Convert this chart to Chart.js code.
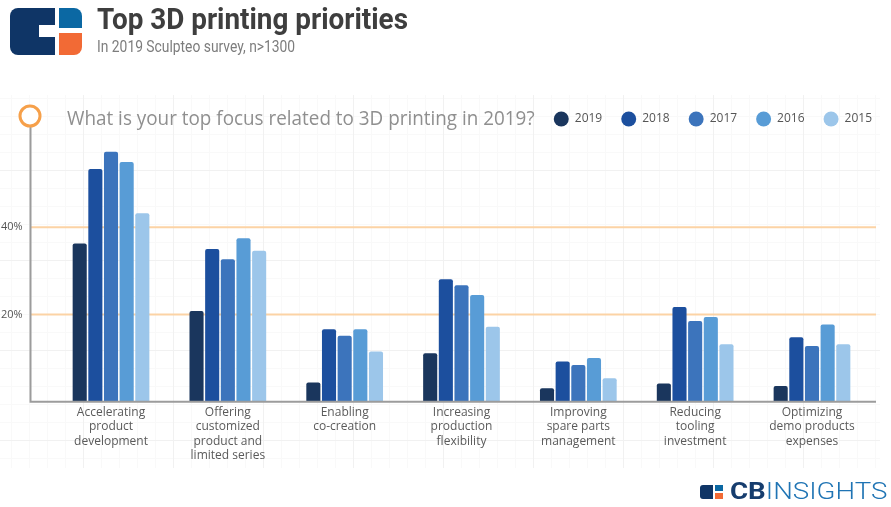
<!DOCTYPE html>
<html>
<head>
<meta charset="utf-8">
<script src="https://cdn.jsdelivr.net/npm/chart.js@4"></script>
<style>
  body { margin: 0; width: 891px; height: 507px; background: #fff; position: relative; overflow: hidden; font-family: Roboto, sans-serif; }
  .paper {
    position: absolute; left: 0; top: 95px; width: 880px; height: 373px;
    background-image:
      linear-gradient(to right, #f1f1f1 1px, transparent 1px),
      linear-gradient(to bottom, #f1f1f1 1px, transparent 1px),
      linear-gradient(to right, #f9f9f9 1px, transparent 1px),
      linear-gradient(to bottom, #f9f9f9 1px, transparent 1px);
    background-size: 90px 90px, 90px 90px, 18px 18px, 18px 18px;
    background-position: 83px -15px, 83px -15px, 11px -15px, 11px -15px;
  }
  #chart { position: absolute; left: 0; top: 0; }
  .logo div { position: absolute; }
  .title { position: absolute; left: 97px; top: 1px; font-size: 30px; font-weight: bold; color: #3e3e3e; white-space: nowrap; transform-origin: left top; }
  .sub { position: absolute; left: 97px; top: 37px; font-size: 16px; color: #7d7d7d; white-space: nowrap; transform-origin: left top; }
  .question { position: absolute; left: 67px; top: 104px; font-family: "Open Sans", sans-serif; font-size: 20px; color: #8f8f8f; white-space: nowrap; transform-origin: left top; }
  .cb { position: absolute; left: 700px; top: 481px; height: 22px; }
  .cb div { position: absolute; }
  .cbtext { position: absolute; left: 730px; top: 477px; font-size: 24px; white-space: nowrap; transform-origin: left top; }
</style>
</head>
<body>
<div class="paper"></div>
<canvas id="chart" width="891" height="507"></canvas>

<div class="logo">
  <div style="left:10px;top:8px;width:45px;height:47px;background:#0f3566;border-radius:8px 0 0 8px;"></div>
  <div style="left:39px;top:25px;width:16px;height:12px;background:#fff;"></div>
  <div style="left:59px;top:8px;width:23px;height:20px;background:#0b68a3;border-radius:0 8px 0 0;"></div>
  <div style="left:59px;top:33px;width:23px;height:22px;background:#f26a35;border-radius:0 0 8px 0;"></div>
</div>
<div class="title" id="title">Top 3D printing priorities</div>
<div class="sub" id="sub">In 2019 Sculpteo survey, n&gt;1300</div>
<div class="question" id="question">What is your top focus related to 3D printing in 2019?</div>

<div class="cb">
  <div style="left:0;top:4px;width:13px;height:14px;background:#0f3566;border-radius:3px 0 0 3px;"></div>
  <div style="left:15px;top:4px;width:8px;height:6px;background:#0b68a3;"></div>
  <div style="left:15px;top:12px;width:8px;height:6px;background:#f26a35;"></div>
</div>
<div class="cbtext" id="cbtext"><span style="font-weight:bold;color:#163d6e;">CB</span><span style="color:#1f74b4;font-weight:300;">INSIGHTS</span></div>

<script>
// ---- data ----
const categories = [
  ["Accelerating", "product", "development"],
  ["Offering", "customized", "product and", "limited series"],
  ["Enabling", "co-creation"],
  ["Increasing", "production", "flexibility"],
  ["Improving", "spare parts", "management"],
  ["Reducing", "tooling", "investment"],
  ["Optimizing", "demo products", "expenses"]
];
const years = ["2019", "2018", "2017", "2016", "2015"];
const s2019 = [36.3, 20.8, 4.4, 11.1, 3.1, 4.2, 3.6];
const s2018 = [53.4, 35.0, 16.6, 28.1, 9.2, 21.7, 14.8];
const s2017 = [57.3, 32.7, 15.1, 26.7, 8.4, 18.5, 12.8];
const s2016 = [55.0, 37.5, 16.6, 24.5, 10.0, 19.4, 17.7];
const s2015 = [43.2, 34.6, 11.5, 17.2, 5.4, 13.2, 13.2];
const yTicks = [20, 40];

const colors = ["#1a365d", "#1c4f9e", "#3c74bc", "#589cd6", "#9cc6ea"];
const series = [s2019, s2018, s2017, s2016, s2015];

const BASE_Y = 401.7;     // pixel row of 0%
const PX_PER_PCT = 4.36;  // vertical scale in the picture

// fit header texts to the widths in the picture
function fitWidth(id, w) {
  const el = document.getElementById(id);
  el.style.transform = "scaleX(" + (w / el.offsetWidth) + ")";
}
fitWidth("title", 311);
fitWidth("sub", 198);
fitWidth("question", 468);
fitWidth("cbtext", 158);

// ---- axis lines, orange grid, circle marker ----
const decor = {
  id: "decor",
  beforeDatasetsDraw(chart) {
    const ctx = chart.ctx;
    const y = chart.scales.y;
    ctx.save();
    ctx.strokeStyle = "#fcd3a5";
    ctx.lineWidth = 2;
    yTicks.forEach(v => {
      const py = y.getPixelForValue(v);
      ctx.beginPath();
      ctx.moveTo(31, py);
      ctx.lineTo(876, py);
      ctx.stroke();
    });
    ctx.restore();
  },
  afterDatasetsDraw(chart) {
    const ctx = chart.ctx;
    const base = chart.scales.y.getPixelForValue(0);
    ctx.save();
    ctx.strokeStyle = "#9c9c9c";
    ctx.lineWidth = 2;
    ctx.beginPath();
    ctx.moveTo(30.5, 126);
    ctx.lineTo(30.5, base);
    ctx.lineTo(876, base);
    ctx.stroke();
    ctx.beginPath();
    ctx.arc(30, 116, 10, 0, Math.PI * 2);
    ctx.fillStyle = "#fff";
    ctx.fill();
    ctx.strokeStyle = "#f6a04a";
    ctx.lineWidth = 3;
    ctx.stroke();
    ctx.restore();
  }
};

const chart = new Chart(document.getElementById("chart"), {
  type: "bar",
  data: {
    labels: categories,
    datasets: years.map((yr, i) => ({
      label: yr,
      data: series[i],
      backgroundColor: colors[i],
      borderRadius: { topLeft: 2, topRight: 2 },
      borderSkipped: "start",
      categoryPercentage: 0.67,
      barPercentage: 0.9
    }))
  },
  options: {
    responsive: false,
    animation: false,
    layout: { padding: { left: 0, right: 0, top: 94, bottom: 0 } },
    plugins: {
      legend: {
        position: "top",
        align: "end",
        labels: {
          usePointStyle: true,
          pointStyle: "circle",
          pointStyleWidth: 15,
          boxHeight: 10.6,
          padding: 19,
          color: "#555",
          font: { family: "Open Sans", size: 12 }
        }
      },
      tooltip: { enabled: false }
    },
    scales: {
      x: {
        grid: { display: false, drawTicks: false },
        border: { display: false },
        afterFit: s => { s.height = 507 - BASE_Y; },
        ticks: {
          color: "#5a5a5a",
          padding: 4,
          maxRotation: 0,
          autoSkip: false,
          font: { family: "Open Sans", size: 12, lineHeight: 1.18 }
        }
      },
      y: {
        min: 0,
        max: 65,
        grid: { display: false, drawTicks: false },
        border: { display: false },
        afterFit: s => { s.width = 52.6; },
        afterBuildTicks: s => { s.ticks = yTicks.map(v => ({ value: v })); },
        ticks: {
          color: "#555",
          padding: 30,
          font: { family: "Open Sans", size: 11 },
          callback: v => v + "%"
        }
      },
      // empty right-hand spacer so the plot ends where the picture's does
      yRight: {
        position: "right",
        grid: { display: false, drawTicks: false },
        border: { display: false },
        ticks: { display: false },
        afterFit: s => { s.width = 20.6; }
      }
    }
  },
  plugins: [decor]
});

// match the picture's vertical scale now that the plot area is known
chart.options.scales.y.max = (BASE_Y - chart.chartArea.top) / PX_PER_PCT;
chart.update();
</script>
</body>
</html>
